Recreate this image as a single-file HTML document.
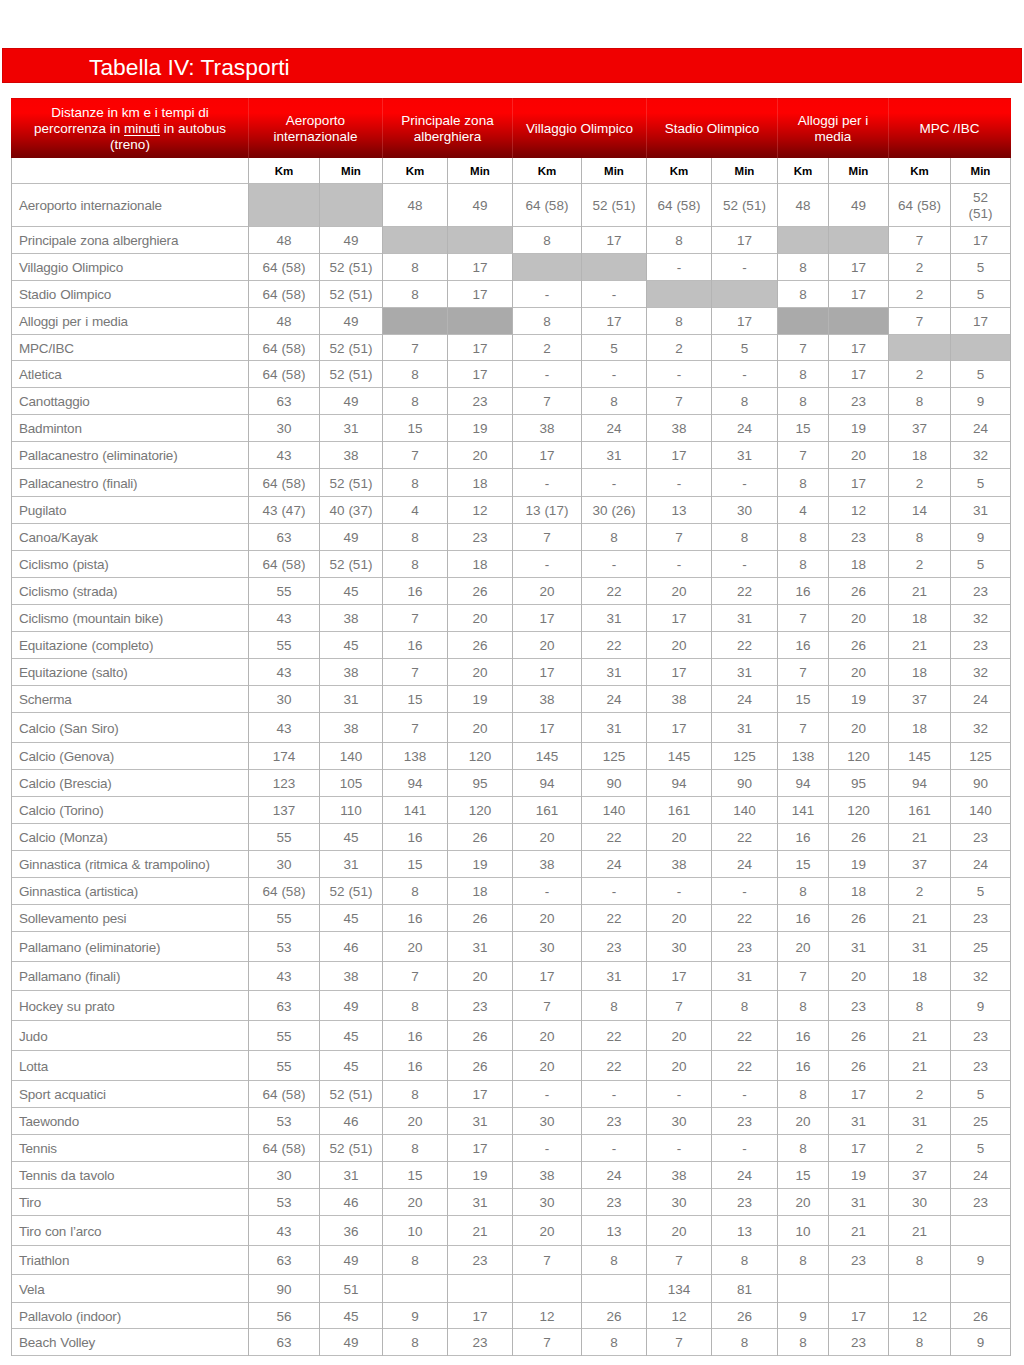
<!DOCTYPE html>
<html><head><meta charset="utf-8"><title>Tabella IV: Trasporti</title>
<style>
html,body{margin:0;padding:0;background:#fff;}
body{width:1024px;height:1365px;position:relative;overflow:hidden;font-family:"Liberation Sans",sans-serif;}
.bar{position:absolute;left:2px;top:48px;width:1018px;height:33px;background:#f00000;border:1px solid #d40000;}
.title{position:absolute;left:89px;top:54px;font-size:22.8px;line-height:26px;color:#fff;white-space:nowrap;}
.hd{position:absolute;top:98px;height:60px;background:linear-gradient(to bottom,#d80000 0%,#fa0000 3%,#fd0000 25%,#d80000 47%,#b40000 67%,#8c0000 87%,#760000 100%);}
.hc{position:absolute;top:98px;height:60px;display:flex;align-items:center;justify-content:center;text-align:center;color:#fff;font-size:13.5px;line-height:16px;}
.hc>div{position:relative;top:1px;}
.hv{position:absolute;top:98px;height:60px;width:1px;background:rgba(255,170,170,0.2);}
.c{position:absolute;display:flex;align-items:center;justify-content:center;text-align:center;color:#777777;font-size:13.5px;line-height:16px;}
.c>div{position:relative;top:1px;}
.l{justify-content:flex-start;padding-left:7px;box-sizing:border-box;letter-spacing:-0.2px;word-spacing:0.5px;}
.k{color:#000;font-weight:bold;font-size:11.5px;}
.g{position:absolute;background:#c0c0c0;}
.dg{position:absolute;background:#aaaaaa;}
.h{position:absolute;height:1px;background:#bcbcbc;}
.v{position:absolute;width:1px;background:#b4b4b4;}
u{text-decoration:underline;text-underline-offset:2px;}
</style></head><body>
<div class="bar"></div>
<div class="title">Tabella IV: Trasporti</div>

<div class="hd" style="left:11px;width:1000px"></div>
<div class="hc" style="left:12px;width:236px"><div>Distanze in km e i tempi di<br>percorrenza in <u>minuti</u> in autobus<br>(treno)</div></div>
<div class="hc" style="left:249px;width:133px"><div>Aeroporto<br>internazionale</div></div>
<div class="hv" style="left:248px"></div>
<div class="hc" style="left:383px;width:129px"><div>Principale zona<br>alberghiera</div></div>
<div class="hv" style="left:382px"></div>
<div class="hc" style="left:513px;width:133px"><div>Villaggio Olimpico</div></div>
<div class="hv" style="left:512px"></div>
<div class="hc" style="left:647px;width:130px"><div>Stadio Olimpico</div></div>
<div class="hv" style="left:646px"></div>
<div class="hc" style="left:778px;width:110px"><div>Alloggi per i<br>media</div></div>
<div class="hv" style="left:777px"></div>
<div class="hc" style="left:889px;width:121px"><div>MPC /IBC</div></div>
<div class="hv" style="left:888px"></div>
<div class="c k" style="left:249px;top:158px;width:70px;height:25px">Km</div>
<div class="c k" style="left:320px;top:158px;width:62px;height:25px">Min</div>
<div class="c k" style="left:383px;top:158px;width:64px;height:25px">Km</div>
<div class="c k" style="left:448px;top:158px;width:64px;height:25px">Min</div>
<div class="c k" style="left:513px;top:158px;width:68px;height:25px">Km</div>
<div class="c k" style="left:582px;top:158px;width:64px;height:25px">Min</div>
<div class="c k" style="left:647px;top:158px;width:64px;height:25px">Km</div>
<div class="c k" style="left:712px;top:158px;width:65px;height:25px">Min</div>
<div class="c k" style="left:778px;top:158px;width:50px;height:25px">Km</div>
<div class="c k" style="left:829px;top:158px;width:59px;height:25px">Min</div>
<div class="c k" style="left:889px;top:158px;width:61px;height:25px">Km</div>
<div class="c k" style="left:951px;top:158px;width:59px;height:25px">Min</div>
<div class="c l" style="left:12px;top:184px;width:236px;height:42px"><div>Aeroporto internazionale</div></div>
<div class="g" style="left:248px;top:183px;width:71px;height:43px"></div>
<div class="g" style="left:319px;top:183px;width:63px;height:43px"></div>
<div class="c" style="left:383px;top:184px;width:64px;height:42px"><div>48</div></div>
<div class="c" style="left:448px;top:184px;width:64px;height:42px"><div>49</div></div>
<div class="c" style="left:513px;top:184px;width:68px;height:42px"><div>64 (58)</div></div>
<div class="c" style="left:582px;top:184px;width:64px;height:42px"><div>52 (51)</div></div>
<div class="c" style="left:647px;top:184px;width:64px;height:42px"><div>64 (58)</div></div>
<div class="c" style="left:712px;top:184px;width:65px;height:42px"><div>52 (51)</div></div>
<div class="c" style="left:778px;top:184px;width:50px;height:42px"><div>48</div></div>
<div class="c" style="left:829px;top:184px;width:59px;height:42px"><div>49</div></div>
<div class="c" style="left:889px;top:184px;width:61px;height:42px"><div>64 (58)</div></div>
<div class="c" style="left:951px;top:184px;width:59px;height:42px"><div>52<br>(51)</div></div>
<div class="c l" style="left:12px;top:227px;width:236px;height:26px"><div>Principale zona alberghiera</div></div>
<div class="c" style="left:249px;top:227px;width:70px;height:26px"><div>48</div></div>
<div class="c" style="left:320px;top:227px;width:62px;height:26px"><div>49</div></div>
<div class="g" style="left:382px;top:226px;width:65px;height:27px"></div>
<div class="g" style="left:447px;top:226px;width:65px;height:27px"></div>
<div class="c" style="left:513px;top:227px;width:68px;height:26px"><div>8</div></div>
<div class="c" style="left:582px;top:227px;width:64px;height:26px"><div>17</div></div>
<div class="c" style="left:647px;top:227px;width:64px;height:26px"><div>8</div></div>
<div class="c" style="left:712px;top:227px;width:65px;height:26px"><div>17</div></div>
<div class="g" style="left:777px;top:226px;width:51px;height:27px"></div>
<div class="g" style="left:828px;top:226px;width:60px;height:27px"></div>
<div class="c" style="left:889px;top:227px;width:61px;height:26px"><div>7</div></div>
<div class="c" style="left:951px;top:227px;width:59px;height:26px"><div>17</div></div>
<div class="c l" style="left:12px;top:254px;width:236px;height:26px"><div>Villaggio Olimpico</div></div>
<div class="c" style="left:249px;top:254px;width:70px;height:26px"><div>64 (58)</div></div>
<div class="c" style="left:320px;top:254px;width:62px;height:26px"><div>52 (51)</div></div>
<div class="c" style="left:383px;top:254px;width:64px;height:26px"><div>8</div></div>
<div class="c" style="left:448px;top:254px;width:64px;height:26px"><div>17</div></div>
<div class="g" style="left:512px;top:253px;width:69px;height:27px"></div>
<div class="g" style="left:581px;top:253px;width:65px;height:27px"></div>
<div class="c" style="left:647px;top:254px;width:64px;height:26px"><div>-</div></div>
<div class="c" style="left:712px;top:254px;width:65px;height:26px"><div>-</div></div>
<div class="c" style="left:778px;top:254px;width:50px;height:26px"><div>8</div></div>
<div class="c" style="left:829px;top:254px;width:59px;height:26px"><div>17</div></div>
<div class="c" style="left:889px;top:254px;width:61px;height:26px"><div>2</div></div>
<div class="c" style="left:951px;top:254px;width:59px;height:26px"><div>5</div></div>
<div class="c l" style="left:12px;top:281px;width:236px;height:26px"><div>Stadio Olimpico</div></div>
<div class="c" style="left:249px;top:281px;width:70px;height:26px"><div>64 (58)</div></div>
<div class="c" style="left:320px;top:281px;width:62px;height:26px"><div>52 (51)</div></div>
<div class="c" style="left:383px;top:281px;width:64px;height:26px"><div>8</div></div>
<div class="c" style="left:448px;top:281px;width:64px;height:26px"><div>17</div></div>
<div class="c" style="left:513px;top:281px;width:68px;height:26px"><div>-</div></div>
<div class="c" style="left:582px;top:281px;width:64px;height:26px"><div>-</div></div>
<div class="g" style="left:646px;top:280px;width:65px;height:27px"></div>
<div class="g" style="left:711px;top:280px;width:66px;height:27px"></div>
<div class="c" style="left:778px;top:281px;width:50px;height:26px"><div>8</div></div>
<div class="c" style="left:829px;top:281px;width:59px;height:26px"><div>17</div></div>
<div class="c" style="left:889px;top:281px;width:61px;height:26px"><div>2</div></div>
<div class="c" style="left:951px;top:281px;width:59px;height:26px"><div>5</div></div>
<div class="c l" style="left:12px;top:308px;width:236px;height:26px"><div>Alloggi per i media</div></div>
<div class="c" style="left:249px;top:308px;width:70px;height:26px"><div>48</div></div>
<div class="c" style="left:320px;top:308px;width:62px;height:26px"><div>49</div></div>
<div class="dg" style="left:382px;top:307px;width:65px;height:27px"></div>
<div class="dg" style="left:447px;top:307px;width:65px;height:27px"></div>
<div class="c" style="left:513px;top:308px;width:68px;height:26px"><div>8</div></div>
<div class="c" style="left:582px;top:308px;width:64px;height:26px"><div>17</div></div>
<div class="c" style="left:647px;top:308px;width:64px;height:26px"><div>8</div></div>
<div class="c" style="left:712px;top:308px;width:65px;height:26px"><div>17</div></div>
<div class="dg" style="left:777px;top:307px;width:51px;height:27px"></div>
<div class="dg" style="left:828px;top:307px;width:60px;height:27px"></div>
<div class="c" style="left:889px;top:308px;width:61px;height:26px"><div>7</div></div>
<div class="c" style="left:951px;top:308px;width:59px;height:26px"><div>17</div></div>
<div class="c l" style="left:12px;top:335px;width:236px;height:25px"><div>MPC/IBC</div></div>
<div class="c" style="left:249px;top:335px;width:70px;height:25px"><div>64 (58)</div></div>
<div class="c" style="left:320px;top:335px;width:62px;height:25px"><div>52 (51)</div></div>
<div class="c" style="left:383px;top:335px;width:64px;height:25px"><div>7</div></div>
<div class="c" style="left:448px;top:335px;width:64px;height:25px"><div>17</div></div>
<div class="c" style="left:513px;top:335px;width:68px;height:25px"><div>2</div></div>
<div class="c" style="left:582px;top:335px;width:64px;height:25px"><div>5</div></div>
<div class="c" style="left:647px;top:335px;width:64px;height:25px"><div>2</div></div>
<div class="c" style="left:712px;top:335px;width:65px;height:25px"><div>5</div></div>
<div class="c" style="left:778px;top:335px;width:50px;height:25px"><div>7</div></div>
<div class="c" style="left:829px;top:335px;width:59px;height:25px"><div>17</div></div>
<div class="g" style="left:888px;top:334px;width:62px;height:26px"></div>
<div class="g" style="left:950px;top:334px;width:60px;height:26px"></div>
<div class="c l" style="left:12px;top:361px;width:236px;height:26px"><div>Atletica</div></div>
<div class="c" style="left:249px;top:361px;width:70px;height:26px"><div>64 (58)</div></div>
<div class="c" style="left:320px;top:361px;width:62px;height:26px"><div>52 (51)</div></div>
<div class="c" style="left:383px;top:361px;width:64px;height:26px"><div>8</div></div>
<div class="c" style="left:448px;top:361px;width:64px;height:26px"><div>17</div></div>
<div class="c" style="left:513px;top:361px;width:68px;height:26px"><div>-</div></div>
<div class="c" style="left:582px;top:361px;width:64px;height:26px"><div>-</div></div>
<div class="c" style="left:647px;top:361px;width:64px;height:26px"><div>-</div></div>
<div class="c" style="left:712px;top:361px;width:65px;height:26px"><div>-</div></div>
<div class="c" style="left:778px;top:361px;width:50px;height:26px"><div>8</div></div>
<div class="c" style="left:829px;top:361px;width:59px;height:26px"><div>17</div></div>
<div class="c" style="left:889px;top:361px;width:61px;height:26px"><div>2</div></div>
<div class="c" style="left:951px;top:361px;width:59px;height:26px"><div>5</div></div>
<div class="c l" style="left:12px;top:388px;width:236px;height:26px"><div>Canottaggio</div></div>
<div class="c" style="left:249px;top:388px;width:70px;height:26px"><div>63</div></div>
<div class="c" style="left:320px;top:388px;width:62px;height:26px"><div>49</div></div>
<div class="c" style="left:383px;top:388px;width:64px;height:26px"><div>8</div></div>
<div class="c" style="left:448px;top:388px;width:64px;height:26px"><div>23</div></div>
<div class="c" style="left:513px;top:388px;width:68px;height:26px"><div>7</div></div>
<div class="c" style="left:582px;top:388px;width:64px;height:26px"><div>8</div></div>
<div class="c" style="left:647px;top:388px;width:64px;height:26px"><div>7</div></div>
<div class="c" style="left:712px;top:388px;width:65px;height:26px"><div>8</div></div>
<div class="c" style="left:778px;top:388px;width:50px;height:26px"><div>8</div></div>
<div class="c" style="left:829px;top:388px;width:59px;height:26px"><div>23</div></div>
<div class="c" style="left:889px;top:388px;width:61px;height:26px"><div>8</div></div>
<div class="c" style="left:951px;top:388px;width:59px;height:26px"><div>9</div></div>
<div class="c l" style="left:12px;top:415px;width:236px;height:26px"><div>Badminton</div></div>
<div class="c" style="left:249px;top:415px;width:70px;height:26px"><div>30</div></div>
<div class="c" style="left:320px;top:415px;width:62px;height:26px"><div>31</div></div>
<div class="c" style="left:383px;top:415px;width:64px;height:26px"><div>15</div></div>
<div class="c" style="left:448px;top:415px;width:64px;height:26px"><div>19</div></div>
<div class="c" style="left:513px;top:415px;width:68px;height:26px"><div>38</div></div>
<div class="c" style="left:582px;top:415px;width:64px;height:26px"><div>24</div></div>
<div class="c" style="left:647px;top:415px;width:64px;height:26px"><div>38</div></div>
<div class="c" style="left:712px;top:415px;width:65px;height:26px"><div>24</div></div>
<div class="c" style="left:778px;top:415px;width:50px;height:26px"><div>15</div></div>
<div class="c" style="left:829px;top:415px;width:59px;height:26px"><div>19</div></div>
<div class="c" style="left:889px;top:415px;width:61px;height:26px"><div>37</div></div>
<div class="c" style="left:951px;top:415px;width:59px;height:26px"><div>24</div></div>
<div class="c l" style="left:12px;top:442px;width:236px;height:26px"><div>Pallacanestro (eliminatorie)</div></div>
<div class="c" style="left:249px;top:442px;width:70px;height:26px"><div>43</div></div>
<div class="c" style="left:320px;top:442px;width:62px;height:26px"><div>38</div></div>
<div class="c" style="left:383px;top:442px;width:64px;height:26px"><div>7</div></div>
<div class="c" style="left:448px;top:442px;width:64px;height:26px"><div>20</div></div>
<div class="c" style="left:513px;top:442px;width:68px;height:26px"><div>17</div></div>
<div class="c" style="left:582px;top:442px;width:64px;height:26px"><div>31</div></div>
<div class="c" style="left:647px;top:442px;width:64px;height:26px"><div>17</div></div>
<div class="c" style="left:712px;top:442px;width:65px;height:26px"><div>31</div></div>
<div class="c" style="left:778px;top:442px;width:50px;height:26px"><div>7</div></div>
<div class="c" style="left:829px;top:442px;width:59px;height:26px"><div>20</div></div>
<div class="c" style="left:889px;top:442px;width:61px;height:26px"><div>18</div></div>
<div class="c" style="left:951px;top:442px;width:59px;height:26px"><div>32</div></div>
<div class="c l" style="left:12px;top:469px;width:236px;height:27px"><div>Pallacanestro (finali)</div></div>
<div class="c" style="left:249px;top:469px;width:70px;height:27px"><div>64 (58)</div></div>
<div class="c" style="left:320px;top:469px;width:62px;height:27px"><div>52 (51)</div></div>
<div class="c" style="left:383px;top:469px;width:64px;height:27px"><div>8</div></div>
<div class="c" style="left:448px;top:469px;width:64px;height:27px"><div>18</div></div>
<div class="c" style="left:513px;top:469px;width:68px;height:27px"><div>-</div></div>
<div class="c" style="left:582px;top:469px;width:64px;height:27px"><div>-</div></div>
<div class="c" style="left:647px;top:469px;width:64px;height:27px"><div>-</div></div>
<div class="c" style="left:712px;top:469px;width:65px;height:27px"><div>-</div></div>
<div class="c" style="left:778px;top:469px;width:50px;height:27px"><div>8</div></div>
<div class="c" style="left:829px;top:469px;width:59px;height:27px"><div>17</div></div>
<div class="c" style="left:889px;top:469px;width:61px;height:27px"><div>2</div></div>
<div class="c" style="left:951px;top:469px;width:59px;height:27px"><div>5</div></div>
<div class="c l" style="left:12px;top:497px;width:236px;height:26px"><div>Pugilato</div></div>
<div class="c" style="left:249px;top:497px;width:70px;height:26px"><div>43 (47)</div></div>
<div class="c" style="left:320px;top:497px;width:62px;height:26px"><div>40 (37)</div></div>
<div class="c" style="left:383px;top:497px;width:64px;height:26px"><div>4</div></div>
<div class="c" style="left:448px;top:497px;width:64px;height:26px"><div>12</div></div>
<div class="c" style="left:513px;top:497px;width:68px;height:26px"><div>13 (17)</div></div>
<div class="c" style="left:582px;top:497px;width:64px;height:26px"><div>30 (26)</div></div>
<div class="c" style="left:647px;top:497px;width:64px;height:26px"><div>13</div></div>
<div class="c" style="left:712px;top:497px;width:65px;height:26px"><div>30</div></div>
<div class="c" style="left:778px;top:497px;width:50px;height:26px"><div>4</div></div>
<div class="c" style="left:829px;top:497px;width:59px;height:26px"><div>12</div></div>
<div class="c" style="left:889px;top:497px;width:61px;height:26px"><div>14</div></div>
<div class="c" style="left:951px;top:497px;width:59px;height:26px"><div>31</div></div>
<div class="c l" style="left:12px;top:524px;width:236px;height:26px"><div>Canoa/Kayak</div></div>
<div class="c" style="left:249px;top:524px;width:70px;height:26px"><div>63</div></div>
<div class="c" style="left:320px;top:524px;width:62px;height:26px"><div>49</div></div>
<div class="c" style="left:383px;top:524px;width:64px;height:26px"><div>8</div></div>
<div class="c" style="left:448px;top:524px;width:64px;height:26px"><div>23</div></div>
<div class="c" style="left:513px;top:524px;width:68px;height:26px"><div>7</div></div>
<div class="c" style="left:582px;top:524px;width:64px;height:26px"><div>8</div></div>
<div class="c" style="left:647px;top:524px;width:64px;height:26px"><div>7</div></div>
<div class="c" style="left:712px;top:524px;width:65px;height:26px"><div>8</div></div>
<div class="c" style="left:778px;top:524px;width:50px;height:26px"><div>8</div></div>
<div class="c" style="left:829px;top:524px;width:59px;height:26px"><div>23</div></div>
<div class="c" style="left:889px;top:524px;width:61px;height:26px"><div>8</div></div>
<div class="c" style="left:951px;top:524px;width:59px;height:26px"><div>9</div></div>
<div class="c l" style="left:12px;top:551px;width:236px;height:26px"><div>Ciclismo (pista)</div></div>
<div class="c" style="left:249px;top:551px;width:70px;height:26px"><div>64 (58)</div></div>
<div class="c" style="left:320px;top:551px;width:62px;height:26px"><div>52 (51)</div></div>
<div class="c" style="left:383px;top:551px;width:64px;height:26px"><div>8</div></div>
<div class="c" style="left:448px;top:551px;width:64px;height:26px"><div>18</div></div>
<div class="c" style="left:513px;top:551px;width:68px;height:26px"><div>-</div></div>
<div class="c" style="left:582px;top:551px;width:64px;height:26px"><div>-</div></div>
<div class="c" style="left:647px;top:551px;width:64px;height:26px"><div>-</div></div>
<div class="c" style="left:712px;top:551px;width:65px;height:26px"><div>-</div></div>
<div class="c" style="left:778px;top:551px;width:50px;height:26px"><div>8</div></div>
<div class="c" style="left:829px;top:551px;width:59px;height:26px"><div>18</div></div>
<div class="c" style="left:889px;top:551px;width:61px;height:26px"><div>2</div></div>
<div class="c" style="left:951px;top:551px;width:59px;height:26px"><div>5</div></div>
<div class="c l" style="left:12px;top:578px;width:236px;height:26px"><div>Ciclismo (strada)</div></div>
<div class="c" style="left:249px;top:578px;width:70px;height:26px"><div>55</div></div>
<div class="c" style="left:320px;top:578px;width:62px;height:26px"><div>45</div></div>
<div class="c" style="left:383px;top:578px;width:64px;height:26px"><div>16</div></div>
<div class="c" style="left:448px;top:578px;width:64px;height:26px"><div>26</div></div>
<div class="c" style="left:513px;top:578px;width:68px;height:26px"><div>20</div></div>
<div class="c" style="left:582px;top:578px;width:64px;height:26px"><div>22</div></div>
<div class="c" style="left:647px;top:578px;width:64px;height:26px"><div>20</div></div>
<div class="c" style="left:712px;top:578px;width:65px;height:26px"><div>22</div></div>
<div class="c" style="left:778px;top:578px;width:50px;height:26px"><div>16</div></div>
<div class="c" style="left:829px;top:578px;width:59px;height:26px"><div>26</div></div>
<div class="c" style="left:889px;top:578px;width:61px;height:26px"><div>21</div></div>
<div class="c" style="left:951px;top:578px;width:59px;height:26px"><div>23</div></div>
<div class="c l" style="left:12px;top:605px;width:236px;height:26px"><div>Ciclismo (mountain bike)</div></div>
<div class="c" style="left:249px;top:605px;width:70px;height:26px"><div>43</div></div>
<div class="c" style="left:320px;top:605px;width:62px;height:26px"><div>38</div></div>
<div class="c" style="left:383px;top:605px;width:64px;height:26px"><div>7</div></div>
<div class="c" style="left:448px;top:605px;width:64px;height:26px"><div>20</div></div>
<div class="c" style="left:513px;top:605px;width:68px;height:26px"><div>17</div></div>
<div class="c" style="left:582px;top:605px;width:64px;height:26px"><div>31</div></div>
<div class="c" style="left:647px;top:605px;width:64px;height:26px"><div>17</div></div>
<div class="c" style="left:712px;top:605px;width:65px;height:26px"><div>31</div></div>
<div class="c" style="left:778px;top:605px;width:50px;height:26px"><div>7</div></div>
<div class="c" style="left:829px;top:605px;width:59px;height:26px"><div>20</div></div>
<div class="c" style="left:889px;top:605px;width:61px;height:26px"><div>18</div></div>
<div class="c" style="left:951px;top:605px;width:59px;height:26px"><div>32</div></div>
<div class="c l" style="left:12px;top:632px;width:236px;height:26px"><div>Equitazione (completo)</div></div>
<div class="c" style="left:249px;top:632px;width:70px;height:26px"><div>55</div></div>
<div class="c" style="left:320px;top:632px;width:62px;height:26px"><div>45</div></div>
<div class="c" style="left:383px;top:632px;width:64px;height:26px"><div>16</div></div>
<div class="c" style="left:448px;top:632px;width:64px;height:26px"><div>26</div></div>
<div class="c" style="left:513px;top:632px;width:68px;height:26px"><div>20</div></div>
<div class="c" style="left:582px;top:632px;width:64px;height:26px"><div>22</div></div>
<div class="c" style="left:647px;top:632px;width:64px;height:26px"><div>20</div></div>
<div class="c" style="left:712px;top:632px;width:65px;height:26px"><div>22</div></div>
<div class="c" style="left:778px;top:632px;width:50px;height:26px"><div>16</div></div>
<div class="c" style="left:829px;top:632px;width:59px;height:26px"><div>26</div></div>
<div class="c" style="left:889px;top:632px;width:61px;height:26px"><div>21</div></div>
<div class="c" style="left:951px;top:632px;width:59px;height:26px"><div>23</div></div>
<div class="c l" style="left:12px;top:659px;width:236px;height:26px"><div>Equitazione (salto)</div></div>
<div class="c" style="left:249px;top:659px;width:70px;height:26px"><div>43</div></div>
<div class="c" style="left:320px;top:659px;width:62px;height:26px"><div>38</div></div>
<div class="c" style="left:383px;top:659px;width:64px;height:26px"><div>7</div></div>
<div class="c" style="left:448px;top:659px;width:64px;height:26px"><div>20</div></div>
<div class="c" style="left:513px;top:659px;width:68px;height:26px"><div>17</div></div>
<div class="c" style="left:582px;top:659px;width:64px;height:26px"><div>31</div></div>
<div class="c" style="left:647px;top:659px;width:64px;height:26px"><div>17</div></div>
<div class="c" style="left:712px;top:659px;width:65px;height:26px"><div>31</div></div>
<div class="c" style="left:778px;top:659px;width:50px;height:26px"><div>7</div></div>
<div class="c" style="left:829px;top:659px;width:59px;height:26px"><div>20</div></div>
<div class="c" style="left:889px;top:659px;width:61px;height:26px"><div>18</div></div>
<div class="c" style="left:951px;top:659px;width:59px;height:26px"><div>32</div></div>
<div class="c l" style="left:12px;top:686px;width:236px;height:26px"><div>Scherma</div></div>
<div class="c" style="left:249px;top:686px;width:70px;height:26px"><div>30</div></div>
<div class="c" style="left:320px;top:686px;width:62px;height:26px"><div>31</div></div>
<div class="c" style="left:383px;top:686px;width:64px;height:26px"><div>15</div></div>
<div class="c" style="left:448px;top:686px;width:64px;height:26px"><div>19</div></div>
<div class="c" style="left:513px;top:686px;width:68px;height:26px"><div>38</div></div>
<div class="c" style="left:582px;top:686px;width:64px;height:26px"><div>24</div></div>
<div class="c" style="left:647px;top:686px;width:64px;height:26px"><div>38</div></div>
<div class="c" style="left:712px;top:686px;width:65px;height:26px"><div>24</div></div>
<div class="c" style="left:778px;top:686px;width:50px;height:26px"><div>15</div></div>
<div class="c" style="left:829px;top:686px;width:59px;height:26px"><div>19</div></div>
<div class="c" style="left:889px;top:686px;width:61px;height:26px"><div>37</div></div>
<div class="c" style="left:951px;top:686px;width:59px;height:26px"><div>24</div></div>
<div class="c l" style="left:12px;top:713px;width:236px;height:29px"><div>Calcio (San Siro)</div></div>
<div class="c" style="left:249px;top:713px;width:70px;height:29px"><div>43</div></div>
<div class="c" style="left:320px;top:713px;width:62px;height:29px"><div>38</div></div>
<div class="c" style="left:383px;top:713px;width:64px;height:29px"><div>7</div></div>
<div class="c" style="left:448px;top:713px;width:64px;height:29px"><div>20</div></div>
<div class="c" style="left:513px;top:713px;width:68px;height:29px"><div>17</div></div>
<div class="c" style="left:582px;top:713px;width:64px;height:29px"><div>31</div></div>
<div class="c" style="left:647px;top:713px;width:64px;height:29px"><div>17</div></div>
<div class="c" style="left:712px;top:713px;width:65px;height:29px"><div>31</div></div>
<div class="c" style="left:778px;top:713px;width:50px;height:29px"><div>7</div></div>
<div class="c" style="left:829px;top:713px;width:59px;height:29px"><div>20</div></div>
<div class="c" style="left:889px;top:713px;width:61px;height:29px"><div>18</div></div>
<div class="c" style="left:951px;top:713px;width:59px;height:29px"><div>32</div></div>
<div class="c l" style="left:12px;top:743px;width:236px;height:26px"><div>Calcio (Genova)</div></div>
<div class="c" style="left:249px;top:743px;width:70px;height:26px"><div>174</div></div>
<div class="c" style="left:320px;top:743px;width:62px;height:26px"><div>140</div></div>
<div class="c" style="left:383px;top:743px;width:64px;height:26px"><div>138</div></div>
<div class="c" style="left:448px;top:743px;width:64px;height:26px"><div>120</div></div>
<div class="c" style="left:513px;top:743px;width:68px;height:26px"><div>145</div></div>
<div class="c" style="left:582px;top:743px;width:64px;height:26px"><div>125</div></div>
<div class="c" style="left:647px;top:743px;width:64px;height:26px"><div>145</div></div>
<div class="c" style="left:712px;top:743px;width:65px;height:26px"><div>125</div></div>
<div class="c" style="left:778px;top:743px;width:50px;height:26px"><div>138</div></div>
<div class="c" style="left:829px;top:743px;width:59px;height:26px"><div>120</div></div>
<div class="c" style="left:889px;top:743px;width:61px;height:26px"><div>145</div></div>
<div class="c" style="left:951px;top:743px;width:59px;height:26px"><div>125</div></div>
<div class="c l" style="left:12px;top:770px;width:236px;height:26px"><div>Calcio (Brescia)</div></div>
<div class="c" style="left:249px;top:770px;width:70px;height:26px"><div>123</div></div>
<div class="c" style="left:320px;top:770px;width:62px;height:26px"><div>105</div></div>
<div class="c" style="left:383px;top:770px;width:64px;height:26px"><div>94</div></div>
<div class="c" style="left:448px;top:770px;width:64px;height:26px"><div>95</div></div>
<div class="c" style="left:513px;top:770px;width:68px;height:26px"><div>94</div></div>
<div class="c" style="left:582px;top:770px;width:64px;height:26px"><div>90</div></div>
<div class="c" style="left:647px;top:770px;width:64px;height:26px"><div>94</div></div>
<div class="c" style="left:712px;top:770px;width:65px;height:26px"><div>90</div></div>
<div class="c" style="left:778px;top:770px;width:50px;height:26px"><div>94</div></div>
<div class="c" style="left:829px;top:770px;width:59px;height:26px"><div>95</div></div>
<div class="c" style="left:889px;top:770px;width:61px;height:26px"><div>94</div></div>
<div class="c" style="left:951px;top:770px;width:59px;height:26px"><div>90</div></div>
<div class="c l" style="left:12px;top:797px;width:236px;height:26px"><div>Calcio (Torino)</div></div>
<div class="c" style="left:249px;top:797px;width:70px;height:26px"><div>137</div></div>
<div class="c" style="left:320px;top:797px;width:62px;height:26px"><div>110</div></div>
<div class="c" style="left:383px;top:797px;width:64px;height:26px"><div>141</div></div>
<div class="c" style="left:448px;top:797px;width:64px;height:26px"><div>120</div></div>
<div class="c" style="left:513px;top:797px;width:68px;height:26px"><div>161</div></div>
<div class="c" style="left:582px;top:797px;width:64px;height:26px"><div>140</div></div>
<div class="c" style="left:647px;top:797px;width:64px;height:26px"><div>161</div></div>
<div class="c" style="left:712px;top:797px;width:65px;height:26px"><div>140</div></div>
<div class="c" style="left:778px;top:797px;width:50px;height:26px"><div>141</div></div>
<div class="c" style="left:829px;top:797px;width:59px;height:26px"><div>120</div></div>
<div class="c" style="left:889px;top:797px;width:61px;height:26px"><div>161</div></div>
<div class="c" style="left:951px;top:797px;width:59px;height:26px"><div>140</div></div>
<div class="c l" style="left:12px;top:824px;width:236px;height:26px"><div>Calcio (Monza)</div></div>
<div class="c" style="left:249px;top:824px;width:70px;height:26px"><div>55</div></div>
<div class="c" style="left:320px;top:824px;width:62px;height:26px"><div>45</div></div>
<div class="c" style="left:383px;top:824px;width:64px;height:26px"><div>16</div></div>
<div class="c" style="left:448px;top:824px;width:64px;height:26px"><div>26</div></div>
<div class="c" style="left:513px;top:824px;width:68px;height:26px"><div>20</div></div>
<div class="c" style="left:582px;top:824px;width:64px;height:26px"><div>22</div></div>
<div class="c" style="left:647px;top:824px;width:64px;height:26px"><div>20</div></div>
<div class="c" style="left:712px;top:824px;width:65px;height:26px"><div>22</div></div>
<div class="c" style="left:778px;top:824px;width:50px;height:26px"><div>16</div></div>
<div class="c" style="left:829px;top:824px;width:59px;height:26px"><div>26</div></div>
<div class="c" style="left:889px;top:824px;width:61px;height:26px"><div>21</div></div>
<div class="c" style="left:951px;top:824px;width:59px;height:26px"><div>23</div></div>
<div class="c l" style="left:12px;top:851px;width:236px;height:26px"><div>Ginnastica (ritmica &amp; trampolino)</div></div>
<div class="c" style="left:249px;top:851px;width:70px;height:26px"><div>30</div></div>
<div class="c" style="left:320px;top:851px;width:62px;height:26px"><div>31</div></div>
<div class="c" style="left:383px;top:851px;width:64px;height:26px"><div>15</div></div>
<div class="c" style="left:448px;top:851px;width:64px;height:26px"><div>19</div></div>
<div class="c" style="left:513px;top:851px;width:68px;height:26px"><div>38</div></div>
<div class="c" style="left:582px;top:851px;width:64px;height:26px"><div>24</div></div>
<div class="c" style="left:647px;top:851px;width:64px;height:26px"><div>38</div></div>
<div class="c" style="left:712px;top:851px;width:65px;height:26px"><div>24</div></div>
<div class="c" style="left:778px;top:851px;width:50px;height:26px"><div>15</div></div>
<div class="c" style="left:829px;top:851px;width:59px;height:26px"><div>19</div></div>
<div class="c" style="left:889px;top:851px;width:61px;height:26px"><div>37</div></div>
<div class="c" style="left:951px;top:851px;width:59px;height:26px"><div>24</div></div>
<div class="c l" style="left:12px;top:878px;width:236px;height:26px"><div>Ginnastica (artistica)</div></div>
<div class="c" style="left:249px;top:878px;width:70px;height:26px"><div>64 (58)</div></div>
<div class="c" style="left:320px;top:878px;width:62px;height:26px"><div>52 (51)</div></div>
<div class="c" style="left:383px;top:878px;width:64px;height:26px"><div>8</div></div>
<div class="c" style="left:448px;top:878px;width:64px;height:26px"><div>18</div></div>
<div class="c" style="left:513px;top:878px;width:68px;height:26px"><div>-</div></div>
<div class="c" style="left:582px;top:878px;width:64px;height:26px"><div>-</div></div>
<div class="c" style="left:647px;top:878px;width:64px;height:26px"><div>-</div></div>
<div class="c" style="left:712px;top:878px;width:65px;height:26px"><div>-</div></div>
<div class="c" style="left:778px;top:878px;width:50px;height:26px"><div>8</div></div>
<div class="c" style="left:829px;top:878px;width:59px;height:26px"><div>18</div></div>
<div class="c" style="left:889px;top:878px;width:61px;height:26px"><div>2</div></div>
<div class="c" style="left:951px;top:878px;width:59px;height:26px"><div>5</div></div>
<div class="c l" style="left:12px;top:905px;width:236px;height:26px"><div>Sollevamento pesi</div></div>
<div class="c" style="left:249px;top:905px;width:70px;height:26px"><div>55</div></div>
<div class="c" style="left:320px;top:905px;width:62px;height:26px"><div>45</div></div>
<div class="c" style="left:383px;top:905px;width:64px;height:26px"><div>16</div></div>
<div class="c" style="left:448px;top:905px;width:64px;height:26px"><div>26</div></div>
<div class="c" style="left:513px;top:905px;width:68px;height:26px"><div>20</div></div>
<div class="c" style="left:582px;top:905px;width:64px;height:26px"><div>22</div></div>
<div class="c" style="left:647px;top:905px;width:64px;height:26px"><div>20</div></div>
<div class="c" style="left:712px;top:905px;width:65px;height:26px"><div>22</div></div>
<div class="c" style="left:778px;top:905px;width:50px;height:26px"><div>16</div></div>
<div class="c" style="left:829px;top:905px;width:59px;height:26px"><div>26</div></div>
<div class="c" style="left:889px;top:905px;width:61px;height:26px"><div>21</div></div>
<div class="c" style="left:951px;top:905px;width:59px;height:26px"><div>23</div></div>
<div class="c l" style="left:12px;top:932px;width:236px;height:29px"><div>Pallamano (eliminatorie)</div></div>
<div class="c" style="left:249px;top:932px;width:70px;height:29px"><div>53</div></div>
<div class="c" style="left:320px;top:932px;width:62px;height:29px"><div>46</div></div>
<div class="c" style="left:383px;top:932px;width:64px;height:29px"><div>20</div></div>
<div class="c" style="left:448px;top:932px;width:64px;height:29px"><div>31</div></div>
<div class="c" style="left:513px;top:932px;width:68px;height:29px"><div>30</div></div>
<div class="c" style="left:582px;top:932px;width:64px;height:29px"><div>23</div></div>
<div class="c" style="left:647px;top:932px;width:64px;height:29px"><div>30</div></div>
<div class="c" style="left:712px;top:932px;width:65px;height:29px"><div>23</div></div>
<div class="c" style="left:778px;top:932px;width:50px;height:29px"><div>20</div></div>
<div class="c" style="left:829px;top:932px;width:59px;height:29px"><div>31</div></div>
<div class="c" style="left:889px;top:932px;width:61px;height:29px"><div>31</div></div>
<div class="c" style="left:951px;top:932px;width:59px;height:29px"><div>25</div></div>
<div class="c l" style="left:12px;top:962px;width:236px;height:28px"><div>Pallamano (finali)</div></div>
<div class="c" style="left:249px;top:962px;width:70px;height:28px"><div>43</div></div>
<div class="c" style="left:320px;top:962px;width:62px;height:28px"><div>38</div></div>
<div class="c" style="left:383px;top:962px;width:64px;height:28px"><div>7</div></div>
<div class="c" style="left:448px;top:962px;width:64px;height:28px"><div>20</div></div>
<div class="c" style="left:513px;top:962px;width:68px;height:28px"><div>17</div></div>
<div class="c" style="left:582px;top:962px;width:64px;height:28px"><div>31</div></div>
<div class="c" style="left:647px;top:962px;width:64px;height:28px"><div>17</div></div>
<div class="c" style="left:712px;top:962px;width:65px;height:28px"><div>31</div></div>
<div class="c" style="left:778px;top:962px;width:50px;height:28px"><div>7</div></div>
<div class="c" style="left:829px;top:962px;width:59px;height:28px"><div>20</div></div>
<div class="c" style="left:889px;top:962px;width:61px;height:28px"><div>18</div></div>
<div class="c" style="left:951px;top:962px;width:59px;height:28px"><div>32</div></div>
<div class="c l" style="left:12px;top:991px;width:236px;height:29px"><div>Hockey su prato</div></div>
<div class="c" style="left:249px;top:991px;width:70px;height:29px"><div>63</div></div>
<div class="c" style="left:320px;top:991px;width:62px;height:29px"><div>49</div></div>
<div class="c" style="left:383px;top:991px;width:64px;height:29px"><div>8</div></div>
<div class="c" style="left:448px;top:991px;width:64px;height:29px"><div>23</div></div>
<div class="c" style="left:513px;top:991px;width:68px;height:29px"><div>7</div></div>
<div class="c" style="left:582px;top:991px;width:64px;height:29px"><div>8</div></div>
<div class="c" style="left:647px;top:991px;width:64px;height:29px"><div>7</div></div>
<div class="c" style="left:712px;top:991px;width:65px;height:29px"><div>8</div></div>
<div class="c" style="left:778px;top:991px;width:50px;height:29px"><div>8</div></div>
<div class="c" style="left:829px;top:991px;width:59px;height:29px"><div>23</div></div>
<div class="c" style="left:889px;top:991px;width:61px;height:29px"><div>8</div></div>
<div class="c" style="left:951px;top:991px;width:59px;height:29px"><div>9</div></div>
<div class="c l" style="left:12px;top:1021px;width:236px;height:29px"><div>Judo</div></div>
<div class="c" style="left:249px;top:1021px;width:70px;height:29px"><div>55</div></div>
<div class="c" style="left:320px;top:1021px;width:62px;height:29px"><div>45</div></div>
<div class="c" style="left:383px;top:1021px;width:64px;height:29px"><div>16</div></div>
<div class="c" style="left:448px;top:1021px;width:64px;height:29px"><div>26</div></div>
<div class="c" style="left:513px;top:1021px;width:68px;height:29px"><div>20</div></div>
<div class="c" style="left:582px;top:1021px;width:64px;height:29px"><div>22</div></div>
<div class="c" style="left:647px;top:1021px;width:64px;height:29px"><div>20</div></div>
<div class="c" style="left:712px;top:1021px;width:65px;height:29px"><div>22</div></div>
<div class="c" style="left:778px;top:1021px;width:50px;height:29px"><div>16</div></div>
<div class="c" style="left:829px;top:1021px;width:59px;height:29px"><div>26</div></div>
<div class="c" style="left:889px;top:1021px;width:61px;height:29px"><div>21</div></div>
<div class="c" style="left:951px;top:1021px;width:59px;height:29px"><div>23</div></div>
<div class="c l" style="left:12px;top:1051px;width:236px;height:29px"><div>Lotta</div></div>
<div class="c" style="left:249px;top:1051px;width:70px;height:29px"><div>55</div></div>
<div class="c" style="left:320px;top:1051px;width:62px;height:29px"><div>45</div></div>
<div class="c" style="left:383px;top:1051px;width:64px;height:29px"><div>16</div></div>
<div class="c" style="left:448px;top:1051px;width:64px;height:29px"><div>26</div></div>
<div class="c" style="left:513px;top:1051px;width:68px;height:29px"><div>20</div></div>
<div class="c" style="left:582px;top:1051px;width:64px;height:29px"><div>22</div></div>
<div class="c" style="left:647px;top:1051px;width:64px;height:29px"><div>20</div></div>
<div class="c" style="left:712px;top:1051px;width:65px;height:29px"><div>22</div></div>
<div class="c" style="left:778px;top:1051px;width:50px;height:29px"><div>16</div></div>
<div class="c" style="left:829px;top:1051px;width:59px;height:29px"><div>26</div></div>
<div class="c" style="left:889px;top:1051px;width:61px;height:29px"><div>21</div></div>
<div class="c" style="left:951px;top:1051px;width:59px;height:29px"><div>23</div></div>
<div class="c l" style="left:12px;top:1081px;width:236px;height:26px"><div>Sport acquatici</div></div>
<div class="c" style="left:249px;top:1081px;width:70px;height:26px"><div>64 (58)</div></div>
<div class="c" style="left:320px;top:1081px;width:62px;height:26px"><div>52 (51)</div></div>
<div class="c" style="left:383px;top:1081px;width:64px;height:26px"><div>8</div></div>
<div class="c" style="left:448px;top:1081px;width:64px;height:26px"><div>17</div></div>
<div class="c" style="left:513px;top:1081px;width:68px;height:26px"><div>-</div></div>
<div class="c" style="left:582px;top:1081px;width:64px;height:26px"><div>-</div></div>
<div class="c" style="left:647px;top:1081px;width:64px;height:26px"><div>-</div></div>
<div class="c" style="left:712px;top:1081px;width:65px;height:26px"><div>-</div></div>
<div class="c" style="left:778px;top:1081px;width:50px;height:26px"><div>8</div></div>
<div class="c" style="left:829px;top:1081px;width:59px;height:26px"><div>17</div></div>
<div class="c" style="left:889px;top:1081px;width:61px;height:26px"><div>2</div></div>
<div class="c" style="left:951px;top:1081px;width:59px;height:26px"><div>5</div></div>
<div class="c l" style="left:12px;top:1108px;width:236px;height:26px"><div>Taewondo</div></div>
<div class="c" style="left:249px;top:1108px;width:70px;height:26px"><div>53</div></div>
<div class="c" style="left:320px;top:1108px;width:62px;height:26px"><div>46</div></div>
<div class="c" style="left:383px;top:1108px;width:64px;height:26px"><div>20</div></div>
<div class="c" style="left:448px;top:1108px;width:64px;height:26px"><div>31</div></div>
<div class="c" style="left:513px;top:1108px;width:68px;height:26px"><div>30</div></div>
<div class="c" style="left:582px;top:1108px;width:64px;height:26px"><div>23</div></div>
<div class="c" style="left:647px;top:1108px;width:64px;height:26px"><div>30</div></div>
<div class="c" style="left:712px;top:1108px;width:65px;height:26px"><div>23</div></div>
<div class="c" style="left:778px;top:1108px;width:50px;height:26px"><div>20</div></div>
<div class="c" style="left:829px;top:1108px;width:59px;height:26px"><div>31</div></div>
<div class="c" style="left:889px;top:1108px;width:61px;height:26px"><div>31</div></div>
<div class="c" style="left:951px;top:1108px;width:59px;height:26px"><div>25</div></div>
<div class="c l" style="left:12px;top:1135px;width:236px;height:26px"><div>Tennis</div></div>
<div class="c" style="left:249px;top:1135px;width:70px;height:26px"><div>64 (58)</div></div>
<div class="c" style="left:320px;top:1135px;width:62px;height:26px"><div>52 (51)</div></div>
<div class="c" style="left:383px;top:1135px;width:64px;height:26px"><div>8</div></div>
<div class="c" style="left:448px;top:1135px;width:64px;height:26px"><div>17</div></div>
<div class="c" style="left:513px;top:1135px;width:68px;height:26px"><div>-</div></div>
<div class="c" style="left:582px;top:1135px;width:64px;height:26px"><div>-</div></div>
<div class="c" style="left:647px;top:1135px;width:64px;height:26px"><div>-</div></div>
<div class="c" style="left:712px;top:1135px;width:65px;height:26px"><div>-</div></div>
<div class="c" style="left:778px;top:1135px;width:50px;height:26px"><div>8</div></div>
<div class="c" style="left:829px;top:1135px;width:59px;height:26px"><div>17</div></div>
<div class="c" style="left:889px;top:1135px;width:61px;height:26px"><div>2</div></div>
<div class="c" style="left:951px;top:1135px;width:59px;height:26px"><div>5</div></div>
<div class="c l" style="left:12px;top:1162px;width:236px;height:26px"><div>Tennis da tavolo</div></div>
<div class="c" style="left:249px;top:1162px;width:70px;height:26px"><div>30</div></div>
<div class="c" style="left:320px;top:1162px;width:62px;height:26px"><div>31</div></div>
<div class="c" style="left:383px;top:1162px;width:64px;height:26px"><div>15</div></div>
<div class="c" style="left:448px;top:1162px;width:64px;height:26px"><div>19</div></div>
<div class="c" style="left:513px;top:1162px;width:68px;height:26px"><div>38</div></div>
<div class="c" style="left:582px;top:1162px;width:64px;height:26px"><div>24</div></div>
<div class="c" style="left:647px;top:1162px;width:64px;height:26px"><div>38</div></div>
<div class="c" style="left:712px;top:1162px;width:65px;height:26px"><div>24</div></div>
<div class="c" style="left:778px;top:1162px;width:50px;height:26px"><div>15</div></div>
<div class="c" style="left:829px;top:1162px;width:59px;height:26px"><div>19</div></div>
<div class="c" style="left:889px;top:1162px;width:61px;height:26px"><div>37</div></div>
<div class="c" style="left:951px;top:1162px;width:59px;height:26px"><div>24</div></div>
<div class="c l" style="left:12px;top:1189px;width:236px;height:26px"><div>Tiro</div></div>
<div class="c" style="left:249px;top:1189px;width:70px;height:26px"><div>53</div></div>
<div class="c" style="left:320px;top:1189px;width:62px;height:26px"><div>46</div></div>
<div class="c" style="left:383px;top:1189px;width:64px;height:26px"><div>20</div></div>
<div class="c" style="left:448px;top:1189px;width:64px;height:26px"><div>31</div></div>
<div class="c" style="left:513px;top:1189px;width:68px;height:26px"><div>30</div></div>
<div class="c" style="left:582px;top:1189px;width:64px;height:26px"><div>23</div></div>
<div class="c" style="left:647px;top:1189px;width:64px;height:26px"><div>30</div></div>
<div class="c" style="left:712px;top:1189px;width:65px;height:26px"><div>23</div></div>
<div class="c" style="left:778px;top:1189px;width:50px;height:26px"><div>20</div></div>
<div class="c" style="left:829px;top:1189px;width:59px;height:26px"><div>31</div></div>
<div class="c" style="left:889px;top:1189px;width:61px;height:26px"><div>30</div></div>
<div class="c" style="left:951px;top:1189px;width:59px;height:26px"><div>23</div></div>
<div class="c l" style="left:12px;top:1216px;width:236px;height:29px"><div>Tiro con l&#8217;arco</div></div>
<div class="c" style="left:249px;top:1216px;width:70px;height:29px"><div>43</div></div>
<div class="c" style="left:320px;top:1216px;width:62px;height:29px"><div>36</div></div>
<div class="c" style="left:383px;top:1216px;width:64px;height:29px"><div>10</div></div>
<div class="c" style="left:448px;top:1216px;width:64px;height:29px"><div>21</div></div>
<div class="c" style="left:513px;top:1216px;width:68px;height:29px"><div>20</div></div>
<div class="c" style="left:582px;top:1216px;width:64px;height:29px"><div>13</div></div>
<div class="c" style="left:647px;top:1216px;width:64px;height:29px"><div>20</div></div>
<div class="c" style="left:712px;top:1216px;width:65px;height:29px"><div>13</div></div>
<div class="c" style="left:778px;top:1216px;width:50px;height:29px"><div>10</div></div>
<div class="c" style="left:829px;top:1216px;width:59px;height:29px"><div>21</div></div>
<div class="c" style="left:889px;top:1216px;width:61px;height:29px"><div>21</div></div>
<div class="c l" style="left:12px;top:1246px;width:236px;height:28px"><div>Triathlon</div></div>
<div class="c" style="left:249px;top:1246px;width:70px;height:28px"><div>63</div></div>
<div class="c" style="left:320px;top:1246px;width:62px;height:28px"><div>49</div></div>
<div class="c" style="left:383px;top:1246px;width:64px;height:28px"><div>8</div></div>
<div class="c" style="left:448px;top:1246px;width:64px;height:28px"><div>23</div></div>
<div class="c" style="left:513px;top:1246px;width:68px;height:28px"><div>7</div></div>
<div class="c" style="left:582px;top:1246px;width:64px;height:28px"><div>8</div></div>
<div class="c" style="left:647px;top:1246px;width:64px;height:28px"><div>7</div></div>
<div class="c" style="left:712px;top:1246px;width:65px;height:28px"><div>8</div></div>
<div class="c" style="left:778px;top:1246px;width:50px;height:28px"><div>8</div></div>
<div class="c" style="left:829px;top:1246px;width:59px;height:28px"><div>23</div></div>
<div class="c" style="left:889px;top:1246px;width:61px;height:28px"><div>8</div></div>
<div class="c" style="left:951px;top:1246px;width:59px;height:28px"><div>9</div></div>
<div class="c l" style="left:12px;top:1275px;width:236px;height:27px"><div>Vela</div></div>
<div class="c" style="left:249px;top:1275px;width:70px;height:27px"><div>90</div></div>
<div class="c" style="left:320px;top:1275px;width:62px;height:27px"><div>51</div></div>
<div class="c" style="left:647px;top:1275px;width:64px;height:27px"><div>134</div></div>
<div class="c" style="left:712px;top:1275px;width:65px;height:27px"><div>81</div></div>
<div class="c l" style="left:12px;top:1303px;width:236px;height:25px"><div>Pallavolo (indoor)</div></div>
<div class="c" style="left:249px;top:1303px;width:70px;height:25px"><div>56</div></div>
<div class="c" style="left:320px;top:1303px;width:62px;height:25px"><div>45</div></div>
<div class="c" style="left:383px;top:1303px;width:64px;height:25px"><div>9</div></div>
<div class="c" style="left:448px;top:1303px;width:64px;height:25px"><div>17</div></div>
<div class="c" style="left:513px;top:1303px;width:68px;height:25px"><div>12</div></div>
<div class="c" style="left:582px;top:1303px;width:64px;height:25px"><div>26</div></div>
<div class="c" style="left:647px;top:1303px;width:64px;height:25px"><div>12</div></div>
<div class="c" style="left:712px;top:1303px;width:65px;height:25px"><div>26</div></div>
<div class="c" style="left:778px;top:1303px;width:50px;height:25px"><div>9</div></div>
<div class="c" style="left:829px;top:1303px;width:59px;height:25px"><div>17</div></div>
<div class="c" style="left:889px;top:1303px;width:61px;height:25px"><div>12</div></div>
<div class="c" style="left:951px;top:1303px;width:59px;height:25px"><div>26</div></div>
<div class="c l" style="left:12px;top:1329px;width:236px;height:26px"><div>Beach Volley</div></div>
<div class="c" style="left:249px;top:1329px;width:70px;height:26px"><div>63</div></div>
<div class="c" style="left:320px;top:1329px;width:62px;height:26px"><div>49</div></div>
<div class="c" style="left:383px;top:1329px;width:64px;height:26px"><div>8</div></div>
<div class="c" style="left:448px;top:1329px;width:64px;height:26px"><div>23</div></div>
<div class="c" style="left:513px;top:1329px;width:68px;height:26px"><div>7</div></div>
<div class="c" style="left:582px;top:1329px;width:64px;height:26px"><div>8</div></div>
<div class="c" style="left:647px;top:1329px;width:64px;height:26px"><div>7</div></div>
<div class="c" style="left:712px;top:1329px;width:65px;height:26px"><div>8</div></div>
<div class="c" style="left:778px;top:1329px;width:50px;height:26px"><div>8</div></div>
<div class="c" style="left:829px;top:1329px;width:59px;height:26px"><div>23</div></div>
<div class="c" style="left:889px;top:1329px;width:61px;height:26px"><div>8</div></div>
<div class="c" style="left:951px;top:1329px;width:59px;height:26px"><div>9</div></div>
<div class="h" style="left:11px;top:183px;width:1000px"></div>
<div class="h" style="left:11px;top:226px;width:1000px"></div>
<div class="h" style="left:11px;top:253px;width:1000px"></div>
<div class="h" style="left:11px;top:280px;width:1000px"></div>
<div class="h" style="left:11px;top:307px;width:1000px"></div>
<div class="h" style="left:11px;top:334px;width:1000px"></div>
<div class="h" style="left:11px;top:360px;width:1000px"></div>
<div class="h" style="left:11px;top:387px;width:1000px"></div>
<div class="h" style="left:11px;top:414px;width:1000px"></div>
<div class="h" style="left:11px;top:441px;width:1000px"></div>
<div class="h" style="left:11px;top:468px;width:1000px"></div>
<div class="h" style="left:11px;top:496px;width:1000px"></div>
<div class="h" style="left:11px;top:523px;width:1000px"></div>
<div class="h" style="left:11px;top:550px;width:1000px"></div>
<div class="h" style="left:11px;top:577px;width:1000px"></div>
<div class="h" style="left:11px;top:604px;width:1000px"></div>
<div class="h" style="left:11px;top:631px;width:1000px"></div>
<div class="h" style="left:11px;top:658px;width:1000px"></div>
<div class="h" style="left:11px;top:685px;width:1000px"></div>
<div class="h" style="left:11px;top:712px;width:1000px"></div>
<div class="h" style="left:11px;top:742px;width:1000px"></div>
<div class="h" style="left:11px;top:769px;width:1000px"></div>
<div class="h" style="left:11px;top:796px;width:1000px"></div>
<div class="h" style="left:11px;top:823px;width:1000px"></div>
<div class="h" style="left:11px;top:850px;width:1000px"></div>
<div class="h" style="left:11px;top:877px;width:1000px"></div>
<div class="h" style="left:11px;top:904px;width:1000px"></div>
<div class="h" style="left:11px;top:931px;width:1000px"></div>
<div class="h" style="left:11px;top:961px;width:1000px"></div>
<div class="h" style="left:11px;top:990px;width:1000px"></div>
<div class="h" style="left:11px;top:1020px;width:1000px"></div>
<div class="h" style="left:11px;top:1050px;width:1000px"></div>
<div class="h" style="left:11px;top:1080px;width:1000px"></div>
<div class="h" style="left:11px;top:1107px;width:1000px"></div>
<div class="h" style="left:11px;top:1134px;width:1000px"></div>
<div class="h" style="left:11px;top:1161px;width:1000px"></div>
<div class="h" style="left:11px;top:1188px;width:1000px"></div>
<div class="h" style="left:11px;top:1215px;width:1000px"></div>
<div class="h" style="left:11px;top:1245px;width:1000px"></div>
<div class="h" style="left:11px;top:1274px;width:1000px"></div>
<div class="h" style="left:11px;top:1302px;width:1000px"></div>
<div class="h" style="left:11px;top:1328px;width:1000px"></div>
<div class="h" style="left:11px;top:1355px;width:1000px"></div>
<div class="v" style="left:11px;top:158px;height:1198px"></div>
<div class="v" style="left:248px;top:158px;height:1198px"></div>
<div class="v" style="left:319px;top:158px;height:1198px"></div>
<div class="v" style="left:382px;top:158px;height:1198px"></div>
<div class="v" style="left:447px;top:158px;height:1198px"></div>
<div class="v" style="left:512px;top:158px;height:1198px"></div>
<div class="v" style="left:581px;top:158px;height:1198px"></div>
<div class="v" style="left:646px;top:158px;height:1198px"></div>
<div class="v" style="left:711px;top:158px;height:1198px"></div>
<div class="v" style="left:777px;top:158px;height:1198px"></div>
<div class="v" style="left:828px;top:158px;height:1198px"></div>
<div class="v" style="left:888px;top:158px;height:1198px"></div>
<div class="v" style="left:950px;top:158px;height:1198px"></div>
<div class="v" style="left:1010px;top:158px;height:1198px"></div>
</body></html>
